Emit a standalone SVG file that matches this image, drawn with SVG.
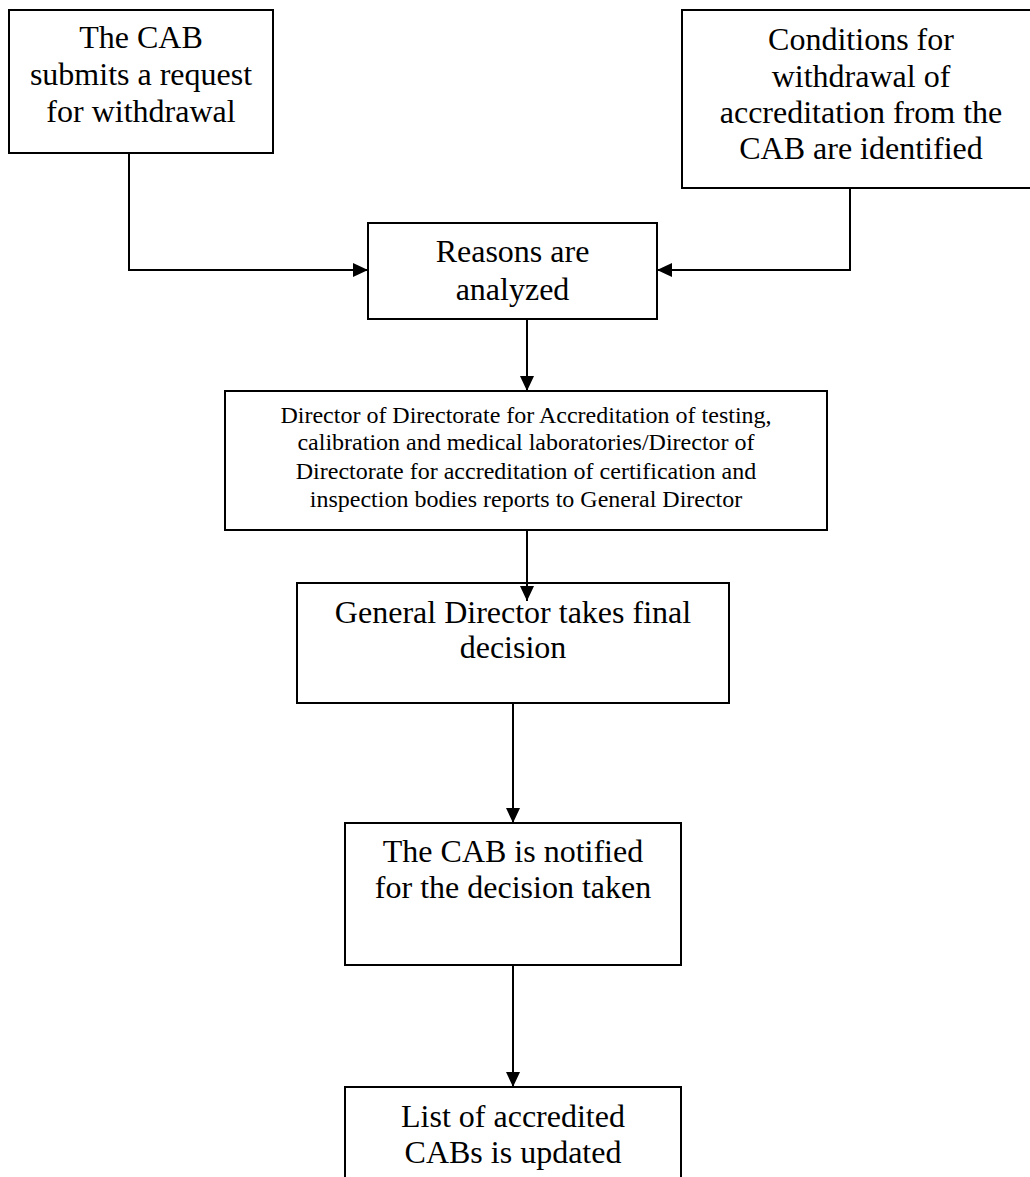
<svg xmlns="http://www.w3.org/2000/svg" width="1030" height="1177" viewBox="0 0 1030 1177">
<style>
  .box { fill: #ffffff; stroke: #000000; stroke-width: 2; }
  .t { font-family: "Liberation Serif", "Times New Roman", serif; font-size: 32px; fill: #000000; text-anchor: middle; }
  .s { font-family: "Liberation Serif", "Times New Roman", serif; font-size: 24px; fill: #000000; text-anchor: middle; }
  .c { fill: none; stroke: #000000; stroke-width: 2; }
</style>
<defs>
  <marker id="arr" markerWidth="15" markerHeight="14" refX="15" refY="7" orient="auto" markerUnits="userSpaceOnUse">
    <path d="M0,0 L15,7 L0,14 Z" fill="#000000"/>
  </marker>
</defs>
<rect width="1030" height="1177" fill="#ffffff"/>

<g id="node-cab-request">
  <rect class="box" x="9" y="10" width="264" height="143"/>
  <text class="t" x="141" y="48">The CAB</text>
  <text class="t" x="141" y="85">submits a request</text>
  <text class="t" x="141" y="122">for withdrawal</text>
</g>

<g id="node-conditions">
  <rect class="box" x="682" y="10" width="360" height="178"/>
  <text class="t" x="861" y="50">Conditions for</text>
  <text class="t" x="861" y="87">withdrawal of</text>
  <text class="t" x="861" y="123">accreditation from the</text>
  <text class="t" x="861" y="159">CAB are identified</text>
</g>

<g id="node-reasons">
  <rect class="box" x="368" y="223" width="289" height="96"/>
  <text class="t" x="512.5" y="262">Reasons are</text>
  <text class="t" x="512.5" y="300">analyzed</text>
</g>

<g id="node-director-report">
  <rect class="box" x="225" y="391" width="602" height="139"/>
  <text class="s" x="526" y="423">Director of Directorate for Accreditation of testing,</text>
  <text class="s" x="526" y="450">calibration and medical laboratories/Director of</text>
  <text class="s" x="526" y="479">Directorate for accreditation of certification and</text>
  <text class="s" x="526" y="507">inspection bodies reports to General Director</text>
</g>

<g id="node-final-decision">
  <rect class="box" x="297" y="583" width="432" height="120"/>
  <text class="t" x="513" y="623">General Director takes final</text>
  <text class="t" x="513" y="658">decision</text>
</g>

<g id="node-notified">
  <rect class="box" x="345" y="823" width="336" height="142"/>
  <text class="t" x="513" y="862">The CAB is notified</text>
  <text class="t" x="513" y="898">for the decision taken</text>
</g>

<g id="node-list-updated">
  <rect class="box" x="345" y="1087" width="336" height="120"/>
  <text class="t" x="513" y="1127">List of accredited</text>
  <text class="t" x="513" y="1163">CABs is updated</text>
</g>

<g id="connectors">
  <polyline class="c" points="129,153 129,270 368,270" marker-end="url(#arr)"/>
  <polyline class="c" points="850,188 850,270 657,270" marker-end="url(#arr)"/>
  <line class="c" x1="527" y1="319" x2="527" y2="391" marker-end="url(#arr)"/>
  <line class="c" x1="527" y1="530" x2="527" y2="601" marker-end="url(#arr)"/>
  <line class="c" x1="513" y1="703" x2="513" y2="823" marker-end="url(#arr)"/>
  <line class="c" x1="513" y1="965" x2="513" y2="1087" marker-end="url(#arr)"/>
</g>
</svg>
